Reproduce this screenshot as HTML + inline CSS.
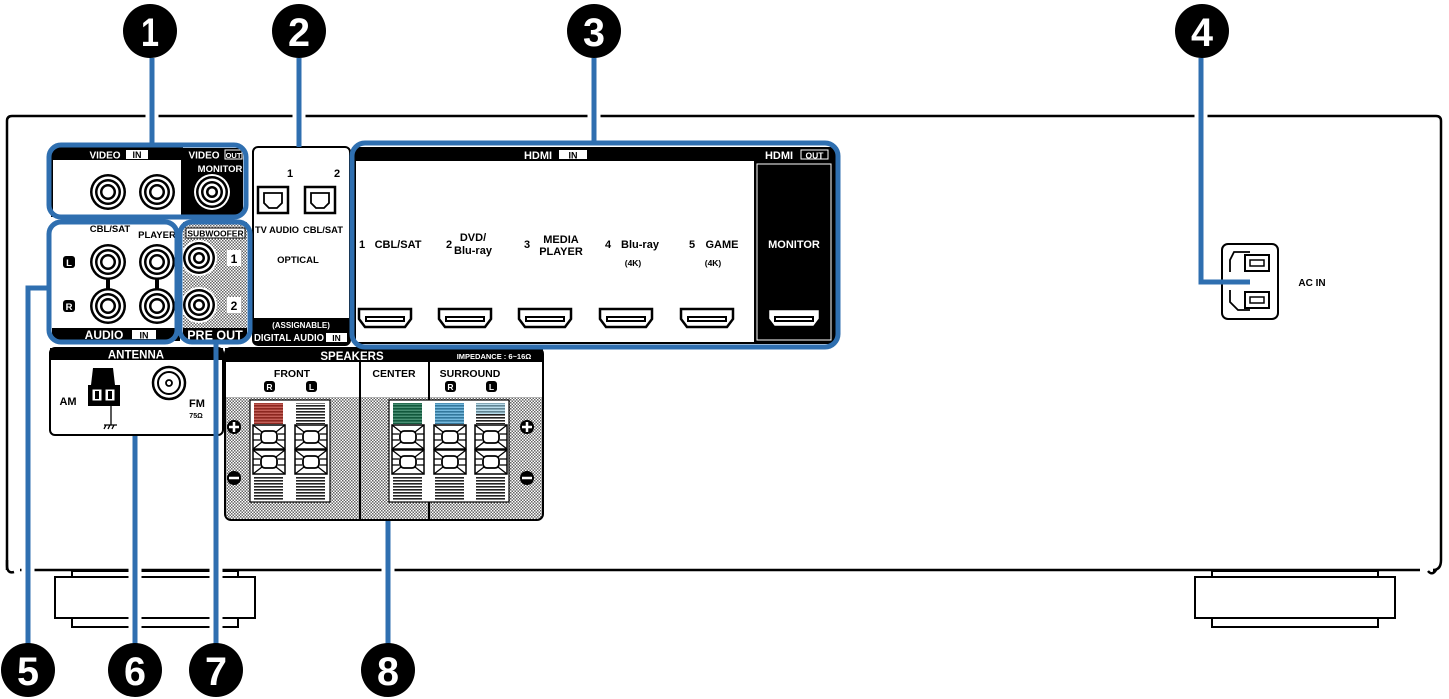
<!DOCTYPE html>
<html><head><meta charset="utf-8"><style>
html,body{margin:0;padding:0;background:#fff;}
svg{display:block;font-family:"Liberation Sans",sans-serif;font-weight:bold;}
</style></head><body>
<svg width="1449" height="699" viewBox="0 0 1449 699" xmlns="http://www.w3.org/2000/svg">
<defs>
<pattern id="dots" width="3" height="3" patternUnits="userSpaceOnUse"><rect width="3" height="3" fill="#fff"/><rect width="1.5" height="1.5" fill="#666"/><rect x="1.5" y="1.5" width="1.5" height="1.5" fill="#666"/></pattern>
<pattern id="stripe" width="4" height="3" patternUnits="userSpaceOnUse"><rect width="4" height="3" fill="#fff"/><rect width="4" height="1.6" fill="#222"/></pattern>
<g id="jack"><circle r="18" fill="#000"/><circle r="15.5" fill="#fff"/><circle r="13" fill="#000"/><circle r="10.5" fill="#fff"/><circle r="8" fill="#000"/><circle r="5.5" fill="#fff"/></g>
<g id="jackw"><circle r="18" fill="#fff"/><circle r="16" fill="#000"/><circle r="13.5" fill="#fff"/><circle r="11" fill="#000"/><circle r="8.5" fill="#fff"/><circle r="6" fill="#000"/><circle r="3.5" fill="#fff"/></g>
<g id="hdmi"><path d="M-26,-9 H26 V1 L20,9 H-20 L-26,1 Z" fill="#fff" stroke="#000" stroke-width="2.5"/><rect x="-19" y="-1" width="38" height="4" fill="#fff" stroke="#000" stroke-width="2"/></g>
<g id="post"><rect x="-16" y="-12" width="32" height="24" fill="#fff" stroke="#000" stroke-width="1.5"/><path d="M-16,-12 L-7,-5 M16,-12 L7,-5 M-16,12 L-7,5 M16,12 L7,5 M-16,-3 H-9 M16,-3 H9 M-16,3 H-9 M16,3 H9" stroke="#000" stroke-width="1.3"/><rect x="-8" y="-6" width="16" height="12" rx="4" fill="#fff" stroke="#000" stroke-width="1.8"/></g>
<g id="opt"><rect x="-15" y="-13" width="30" height="26" fill="#fff" stroke="#000" stroke-width="2.5"/><path d="M-9,-7 H9 V3 L4,8 H-4 L-9,3 Z" fill="#fff" stroke="#000" stroke-width="1.8"/></g>
</defs>

<!-- chassis -->
<path d="M7,570 V121 Q7,116 12,116 H1436 Q1441,116 1441,121 V560 Q1441,570 1433,570 H1436 Q1432,576 1428,571 M20,570 H1420" fill="none" stroke="#000" stroke-width="2.5"/>
<path d="M7,560 V565 Q7,574 14,572" fill="none" stroke="#000" stroke-width="2.5"/>
<!-- feet -->
<g fill="#fff" stroke="#000" stroke-width="2">
<rect x="72" y="571" width="166" height="6"/><rect x="72" y="618" width="166" height="9"/><rect x="55" y="577" width="200" height="41"/>
<rect x="1212" y="571" width="166" height="6"/><rect x="1212" y="618" width="166" height="9"/><rect x="1195" y="577" width="200" height="41"/>
</g>

<!-- VIDEO panel -->
<rect x="52" y="148" width="130" height="68" fill="#fff" stroke="#000" stroke-width="2"/>
<rect x="52" y="148" width="190" height="12" fill="#000"/>
<text x="105" y="158.5" font-size="10" fill="#fff" text-anchor="middle">VIDEO</text>
<rect x="126" y="150" width="22" height="9" fill="#fff"/><text x="137" y="158" font-size="9" text-anchor="middle">IN</text>
<rect x="183" y="148" width="60" height="68" fill="#000"/>
<text x="204" y="158.5" font-size="10" fill="#fff" text-anchor="middle">VIDEO</text>
<rect x="225" y="150" width="17" height="9" fill="#000" stroke="#fff" stroke-width="1"/><text x="233.5" y="158" font-size="7.5" fill="#fff" text-anchor="middle">OUT</text>
<text x="220" y="172" font-size="9.5" fill="#fff" text-anchor="middle">MONITOR</text>
<use href="#jack" x="108" y="192"/><use href="#jack" x="157" y="192"/><use href="#jackw" x="212" y="192"/>

<!-- AUDIO panel -->
<rect x="52" y="220" width="128" height="120" fill="#fff"/>
<text x="110" y="232" font-size="9.5" text-anchor="middle">CBL/SAT</text>
<text x="157" y="238" font-size="9.5" text-anchor="middle">PLAYER</text>
<rect x="63" y="256" width="12" height="12" rx="3" fill="#000"/><text x="69" y="266" font-size="9.5" fill="#fff" text-anchor="middle">L</text>
<rect x="63" y="300" width="12" height="12" rx="3" fill="#000"/><text x="69" y="310" font-size="9.5" fill="#fff" text-anchor="middle">R</text>
<rect x="106" y="270" width="4" height="30" fill="#000"/><rect x="155" y="270" width="4" height="30" fill="#000"/>
<use href="#jack" x="108" y="262"/><use href="#jack" x="157" y="262"/><use href="#jack" x="108" y="306"/><use href="#jack" x="157" y="306"/>
<rect x="52" y="328" width="128" height="13" fill="#000"/>
<text x="104" y="339" font-size="12" fill="#fff" text-anchor="middle">AUDIO</text>
<rect x="132" y="330" width="24" height="9" fill="#fff"/><text x="144" y="338.5" font-size="9" text-anchor="middle">IN</text>

<!-- SUBWOOFER -->
<rect x="183" y="222" width="64" height="108" fill="url(#dots)"/>
<rect x="186" y="228" width="59" height="10" fill="#fff" stroke="#000" stroke-width="1"/>
<text x="215.5" y="236.5" font-size="8.5" text-anchor="middle">SUBWOOFER</text>
<use href="#jackw" x="199" y="258"/><use href="#jackw" x="199" y="305"/>
<rect x="227" y="250" width="14" height="16" fill="#fff"/><text x="234" y="263" font-size="12" text-anchor="middle">1</text>
<rect x="227" y="297" width="14" height="16" fill="#fff"/><text x="234" y="310" font-size="12" text-anchor="middle">2</text>
<rect x="183" y="328" width="64" height="13" fill="#000"/>
<text x="215" y="339.5" font-size="12.5" fill="#fff" text-anchor="middle">PRE OUT</text>

<!-- OPTICAL -->
<rect x="253" y="147" width="97" height="198" rx="5" fill="#fff" stroke="#000" stroke-width="2"/>
<path d="M253,318 H350 V340 Q350,345 345,345 H258 Q253,345 253,340 Z" fill="#000"/>
<text x="301" y="328" font-size="8" fill="#fff" text-anchor="middle">(ASSIGNABLE)</text>
<text x="289" y="341" font-size="10" fill="#fff" text-anchor="middle" textLength="70" lengthAdjust="spacingAndGlyphs">DIGITAL AUDIO</text>
<rect x="326" y="333" width="21" height="9" fill="#fff"/><text x="336.5" y="341" font-size="8.5" text-anchor="middle">IN</text>
<text x="290" y="177" font-size="11" text-anchor="middle">1</text><text x="337" y="177" font-size="11" text-anchor="middle">2</text>
<use href="#opt" x="273" y="200"/><use href="#opt" x="320" y="200"/>
<text x="277" y="233" font-size="9.5" text-anchor="middle" textLength="44" lengthAdjust="spacingAndGlyphs">TV AUDIO</text>
<text x="323" y="233" font-size="9.5" text-anchor="middle" textLength="40" lengthAdjust="spacingAndGlyphs">CBL/SAT</text>
<text x="298" y="263" font-size="9.5" text-anchor="middle">OPTICAL</text>

<!-- HDMI -->
<rect x="355" y="148" width="480" height="195" fill="#fff" stroke="#000" stroke-width="2"/>
<rect x="355" y="148" width="480" height="13" fill="#000"/>
<text x="538" y="159" font-size="11" fill="#fff" text-anchor="middle">HDMI</text>
<rect x="559" y="150" width="28" height="9" fill="#fff"/><text x="573" y="158.5" font-size="9" text-anchor="middle">IN</text>
<rect x="754" y="148" width="81" height="195" fill="#000"/>
<rect x="757" y="164" width="74" height="176" fill="#000" stroke="#fff" stroke-width="1"/>
<text x="779" y="159" font-size="11" fill="#fff" text-anchor="middle">HDMI</text>
<rect x="801" y="150" width="27" height="9" fill="#000" stroke="#fff" stroke-width="1"/><text x="814.5" y="158.5" font-size="8.5" fill="#fff" text-anchor="middle">OUT</text>
<g font-size="11" text-anchor="middle">
<text x="362" y="248">1</text><text x="398" y="248">CBL/SAT</text>
<text x="449" y="248">2</text><text x="473" y="241">DVD/</text><text x="473" y="254">Blu-ray</text>
<text x="527" y="248">3</text><text x="561" y="243">MEDIA</text><text x="561" y="255">PLAYER</text>
<text x="608" y="248">4</text><text x="640" y="248">Blu-ray</text><text x="633" y="266" font-size="8.5">(4K)</text>
<text x="692" y="248">5</text><text x="722" y="248">GAME</text><text x="713" y="266" font-size="8.5">(4K)</text>
<text x="794" y="248" fill="#fff">MONITOR</text>
</g>
<use href="#hdmi" x="385" y="318"/><use href="#hdmi" x="465" y="318"/><use href="#hdmi" x="545" y="318"/><use href="#hdmi" x="626" y="318"/><use href="#hdmi" x="707" y="318"/><use href="#hdmi" x="794" y="318"/>

<!-- ANTENNA -->
<rect x="50" y="348" width="173" height="87" rx="5" fill="#fff" stroke="#000" stroke-width="2"/>
<rect x="50" y="348" width="173" height="12" fill="#000"/>
<text x="136" y="358.5" font-size="11.5" fill="#fff" text-anchor="middle">ANTENNA</text>
<path d="M93,368 H113 L115,385 H91 Z" fill="#000"/>
<rect x="88" y="385" width="32" height="21" fill="#000"/>
<rect x="92" y="389" width="10" height="12" fill="#fff" stroke="#000"/><rect x="105" y="389" width="10" height="12" fill="#fff" stroke="#000"/>
<rect x="95" y="391" width="4" height="8" fill="#000"/><rect x="108" y="391" width="4" height="8" fill="#000"/>
<path d="M111,406 V425 M104,425 H117 M106,425 L104,429 M110,425 L108,429 M114,425 L112,429" stroke="#000" stroke-width="1.3"/>
<text x="68" y="405" font-size="11" text-anchor="middle">AM</text>
<circle cx="169" cy="383" r="16" fill="#fff" stroke="#000" stroke-width="2.5"/><circle cx="169" cy="383" r="11" fill="#fff" stroke="#000" stroke-width="2"/><circle cx="169" cy="383" r="3" fill="#fff" stroke="#000" stroke-width="1.8"/>
<text x="197" y="407" font-size="11" text-anchor="middle">FM</text>
<text x="196" y="418" font-size="7" text-anchor="middle">75Ω</text>

<!-- SPEAKERS -->
<rect x="225" y="348" width="318" height="172" rx="6" fill="url(#dots)" stroke="#000" stroke-width="2"/>
<rect x="226" y="349" width="316" height="48" fill="#fff"/>
<rect x="225" y="348" width="318" height="14" fill="#000"/>
<text x="352" y="360" font-size="11.5" fill="#fff" text-anchor="middle">SPEAKERS</text>
<text x="494" y="359" font-size="7.5" fill="#fff" text-anchor="middle">IMPEDANCE : 6~16Ω</text>
<line x1="360" y1="362" x2="360" y2="519" stroke="#000" stroke-width="2"/><line x1="429" y1="362" x2="429" y2="519" stroke="#000" stroke-width="2"/>
<text x="292" y="377" font-size="10.5" text-anchor="middle">FRONT</text>
<text x="394" y="377" font-size="10.5" text-anchor="middle">CENTER</text>
<text x="470" y="377" font-size="10.5" text-anchor="middle">SURROUND</text>
<g font-size="8.5" fill="#fff" text-anchor="middle">
<rect x="264" y="381" width="11" height="11" rx="3" fill="#000"/><text x="269.5" y="390">R</text>
<rect x="306" y="381" width="11" height="11" rx="3" fill="#000"/><text x="311.5" y="390">L</text>
<rect x="445" y="381" width="11" height="11" rx="3" fill="#000"/><text x="450.5" y="390">R</text>
<rect x="486" y="381" width="11" height="11" rx="3" fill="#000"/><text x="491.5" y="390">L</text>
</g>
<rect x="250" y="400" width="80" height="102" fill="#fff" stroke="#000" stroke-width="1.2"/>
<rect x="389" y="400" width="120" height="102" fill="#fff" stroke="#000" stroke-width="1.2"/>
<g>
<rect x="254" y="403" width="29" height="21" fill="url(#stripe)"/><rect x="254" y="403" width="29" height="21" fill="#b02a20" opacity="0.75"/>
<rect x="296" y="403" width="29" height="21" fill="url(#stripe)"/>
<rect x="393" y="403" width="29" height="21" fill="url(#stripe)"/><rect x="393" y="403" width="29" height="21" fill="#0c6b45" opacity="0.75"/>
<rect x="435" y="403" width="29" height="21" fill="url(#stripe)"/><rect x="435" y="403" width="29" height="21" fill="#3a9bd0" opacity="0.7"/>
<rect x="476" y="403" width="29" height="21" fill="url(#stripe)"/><rect x="476" y="403" width="29" height="11" fill="#8cc6e0" opacity="0.6"/>
<rect x="254" y="476" width="29" height="24" fill="url(#stripe)"/><rect x="296" y="476" width="29" height="24" fill="url(#stripe)"/>
<rect x="393" y="476" width="29" height="24" fill="url(#stripe)"/><rect x="435" y="476" width="29" height="24" fill="url(#stripe)"/><rect x="476" y="476" width="29" height="24" fill="url(#stripe)"/>
</g>
<use href="#post" x="269" y="437"/><use href="#post" x="311" y="437"/><use href="#post" x="269" y="462"/><use href="#post" x="311" y="462"/>
<use href="#post" x="408" y="437"/><use href="#post" x="450" y="437"/><use href="#post" x="491" y="437"/>
<use href="#post" x="408" y="462"/><use href="#post" x="450" y="462"/><use href="#post" x="491" y="462"/>
<g fill="#000"><circle cx="234" cy="427" r="7"/><circle cx="234" cy="478" r="7"/><circle cx="527" cy="427" r="7"/><circle cx="527" cy="478" r="7"/></g>
<g stroke="#fff" stroke-width="2.5"><path d="M229,427 H239 M234,422 V432 M522,427 H532 M527,422 V432 M229,478 H239 M522,478 H532"/></g>

<!-- AC IN -->
<rect x="1222" y="244" width="56" height="75" rx="6" fill="#fff" stroke="#000" stroke-width="2"/>
<path d="M1250,252 H1234 L1230,260 V272 M1230,290 V302 L1238,310 H1250" fill="none" stroke="#000" stroke-width="1.8"/>
<rect x="1245" y="255" width="24" height="16" fill="#fff" stroke="#000" stroke-width="2"/><rect x="1250" y="260" width="14" height="6" fill="#fff" stroke="#000" stroke-width="1.5"/>
<rect x="1245" y="292" width="24" height="16" fill="#fff" stroke="#000" stroke-width="2"/><rect x="1250" y="297" width="14" height="6" fill="#fff" stroke="#000" stroke-width="1.5"/>
<text x="1312" y="286" font-size="10" text-anchor="middle">AC IN</text>

<!-- leader halos only at chassis line crossings -->
<g fill="none" stroke="#fff" stroke-width="13">
<path d="M152,108 V124 M299,108 V124 M594,108 V124 M1201,108 V124 M28,563 V578 M135,563 V630 M216,563 V630 M388,563 V578"/>
</g>
<g fill="none" stroke="#2f6fb0" stroke-width="5">
<path d="M152,58 V146 M299,58 V147 M594,58 V143 M1201,58 V282 H1250 M28,645 V288 H50 M135,436 V645 M216,340 V645 M388,521 V645"/>
<rect x="49" y="145" width="197" height="72" rx="12"/>
<rect x="49" y="222" width="128" height="120" rx="12"/>
<rect x="180" y="222" width="70" height="120" rx="12"/>
<rect x="352" y="143" width="486" height="204" rx="13"/>
</g>

<!-- number badges -->
<g fill="#000"><circle cx="150" cy="31" r="27"/><circle cx="299" cy="31" r="27"/><circle cx="594" cy="31" r="27"/><circle cx="1202" cy="31" r="27"/>
<circle cx="28" cy="670" r="27"/><circle cx="135" cy="670" r="27"/><circle cx="216" cy="670" r="27"/><circle cx="388" cy="670" r="27"/></g>
<g fill="#fff" font-size="40" text-anchor="middle" font-weight="bold">
<text x="150" y="46" textLength="18" lengthAdjust="spacingAndGlyphs">1</text><text x="299" y="46" textLength="22" lengthAdjust="spacingAndGlyphs">2</text><text x="594" y="46" textLength="22" lengthAdjust="spacingAndGlyphs">3</text><text x="1202" y="46" textLength="22" lengthAdjust="spacingAndGlyphs">4</text>
<text x="28" y="685" textLength="22" lengthAdjust="spacingAndGlyphs">5</text><text x="135" y="685" textLength="22" lengthAdjust="spacingAndGlyphs">6</text><text x="216" y="685" textLength="22" lengthAdjust="spacingAndGlyphs">7</text><text x="388" y="685" textLength="22" lengthAdjust="spacingAndGlyphs">8</text>
</g>
</svg>
</body></html>
